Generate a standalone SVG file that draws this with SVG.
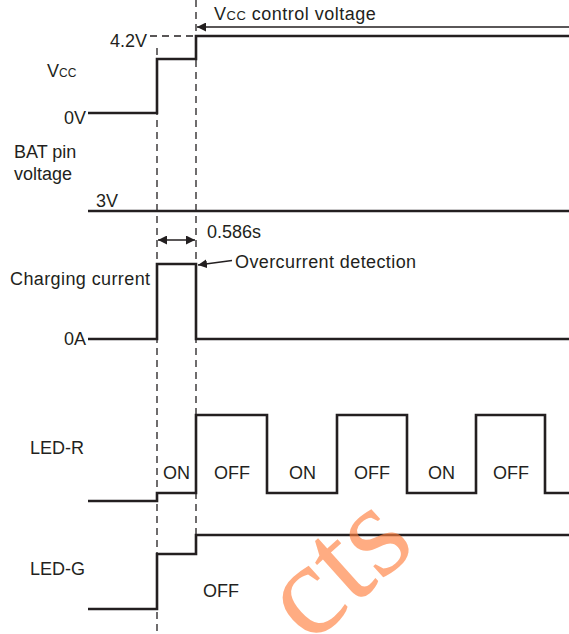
<svg xmlns="http://www.w3.org/2000/svg" width="569" height="634" viewBox="0 0 569 634">
<defs>
<style>
.t{font-family:"Liberation Sans",Arial,sans-serif;font-size:18px;fill:#231f20}
.tr{fill:none;stroke:#231f20;stroke-width:2.6;stroke-linejoin:miter;stroke-linecap:butt}
.dash{fill:none;stroke:#231f20;stroke-width:1.3;stroke-dasharray:7,5}
.thin{fill:none;stroke:#231f20;stroke-width:1.4}
.wm{font-family:"Liberation Serif","Times New Roman",serif;font-size:132px;fill:#ff7f3f;fill-opacity:0.65}
</style>
<marker id="ah" viewBox="0 0 10 10" refX="10" refY="5" markerWidth="9" markerHeight="9" markerUnits="userSpaceOnUse" orient="auto-start-reverse">
<path d="M0,0 L10,5 L0,10 z" fill="#231f20"/>
</marker>
</defs>
<rect width="569" height="634" fill="#ffffff"/>

<g id="connectors">
<line class="dash" x1="157" y1="48" x2="157" y2="634"/>
<line class="dash" x1="196" y1="0" x2="196" y2="555"/>
<line class="dash" x1="150" y1="36" x2="196" y2="36"/>
<line class="thin" x1="569" y1="27" x2="197" y2="27" marker-end="url(#ah)"/>
<line class="thin" x1="158" y1="240" x2="195" y2="240" marker-start="url(#ah)" marker-end="url(#ah)"/>
<line class="thin" x1="232" y1="260.5" x2="198" y2="265" marker-end="url(#ah)"/>
</g>

<g id="vcc">
<text class="t" x="147" y="47" text-anchor="end">4.2V</text>
<text class="t" x="47" y="77">V<tspan font-size="12">CC</tspan></text>
<text class="t" x="86" y="124" text-anchor="end">0V</text>
<polyline class="tr" points="88,113 157,113 157,59 196,59 196,36 569,36"/>
<text class="t" x="214" y="20" font-size="17" letter-spacing="0.5">V<tspan font-size="13">CC</tspan> control voltage</text>
</g>

<g id="bat">
<text class="t" x="14" y="158">BAT pin</text>
<text class="t" x="14" y="180">voltage</text>
<text class="t" x="96" y="207">3V</text>
<line class="tr" x1="88" y1="211" x2="569" y2="211"/>
<text class="t" x="207" y="238">0.586s</text>
</g>

<g id="charging">
<text class="t" x="10" y="285" font-size="19" letter-spacing="0.4">Charging current</text>
<text class="t" x="86" y="345" text-anchor="end">0A</text>
<polyline class="tr" points="88,339 157,339 157,264 196,264 196,339 569,339"/>
<text class="t" x="235" y="268" font-size="19" letter-spacing="0.4">Overcurrent detection</text>
</g>

<g id="ledr">
<text class="t" x="30" y="454">LED-R</text>
<polyline class="tr" points="88,501 157,501 157,493 196,493 196,415 267,415 267,493 337,493 337,415 407,415 407,493 476,493 476,415 545,415 545,493 569,493"/>
<text class="t" x="163" y="479">ON</text>
<text class="t" x="214" y="479">OFF</text>
<text class="t" x="289" y="479">ON</text>
<text class="t" x="354" y="479">OFF</text>
<text class="t" x="428" y="479">ON</text>
<text class="t" x="493" y="479">OFF</text>
</g>

<g id="ledg">
<text class="t" x="30" y="575">LED-G</text>
<polyline class="tr" points="88,609 157,609 157,554 196,554 196,535 569,535"/>
<text class="t" x="203" y="597">OFF</text>
</g>

<text class="wm" transform="translate(364,597) rotate(-42)" text-anchor="middle">cts</text>
</svg>
